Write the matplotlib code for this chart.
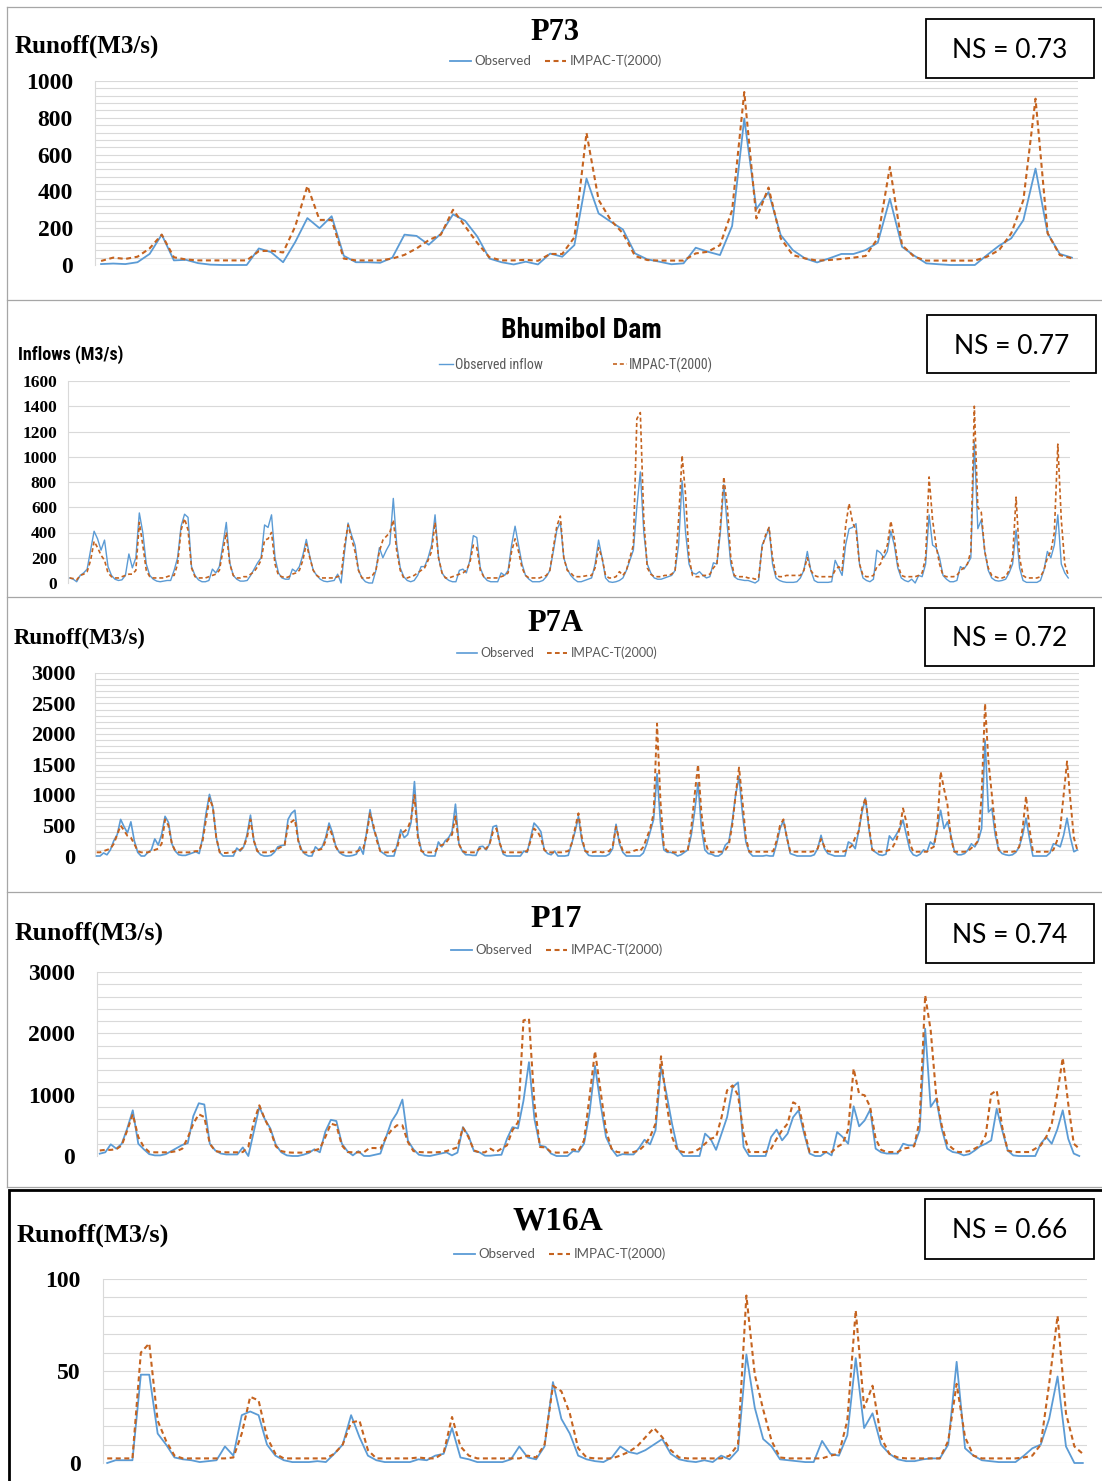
import numpy as np
import matplotlib
matplotlib.use("Agg")
import matplotlib.pyplot as plt
from matplotlib import font_manager as fm
from matplotlib.lines import Line2D
from matplotlib.patches import Rectangle

# ------------------------------------------------------------------
# Monthly runoff / inflow series (observed vs. IMPAC-T(2000) model)
# ------------------------------------------------------------------
p73_obs = [5, 8, 5, 15, 60, 165, 25, 28, 10, 2, 0, 0, 0, 90, 70, 15, 125, 255, 200, 265,
           50, 15, 15, 12, 40, 165, 158, 110, 170, 275, 240, 155, 35, 15, 3, 18, 3, 62, 45, 108,
           470, 280, 235, 193, 63, 31, 18, 4, 9, 94, 72, 54, 212, 796, 304, 396, 163, 81, 36, 14,
           36, 60, 60, 81, 121, 360, 99, 51, 9, 4, 0, 0, 0, 54, 105, 145, 244, 524, 172, 60, 40]
p73_sim = [22, 40, 33, 45, 90, 165, 42, 30, 25, 25, 25, 25, 25, 75, 78, 68, 210, 430, 245, 245,
           35, 25, 25, 25, 35, 55, 90, 135, 165, 300, 210, 120, 42, 25, 25, 28, 23, 60, 60, 150,
           718, 353, 244, 172, 49, 27, 24, 24, 24, 63, 72, 108, 298, 940, 253, 421, 145, 54, 36, 24,
           27, 33, 40, 49, 145, 533, 108, 45, 24, 24, 24, 24, 24, 45, 81, 172, 353, 904, 172, 54, 36]

bhumibol_obs = [
    40, 30, 10, 60, 80, 110, 260, 410, 350, 260, 340, 130,
    60, 30, 20, 25, 60, 230, 120, 200, 555, 400, 150, 60,
    30, 15, 10, 15, 20, 20, 100, 200, 450, 545, 520, 130,
    60, 25, 10, 10, 20, 110, 80, 130, 300, 480, 160, 60,
    30, 15, 15, 20, 60, 110, 160, 200, 460, 440, 540, 200,
    80, 40, 30, 30, 110, 90, 130, 220, 345, 210, 100, 60,
    30, 15, 10, 15, 20, 70, 0, 250, 475, 380, 300, 100,
    40, 10, 0, 0, 100, 280, 200, 260, 310, 670, 300, 120,
    50, 20, 10, 20, 60, 130, 130, 200, 300, 540, 200, 80,
    40, 20, 10, 10, 100, 110, 80, 180, 375, 360, 120, 50,
    20, 10, 10, 10, 80, 60, 100, 300, 450, 300, 150, 60,
    30, 10, 10, 10, 20, 50, 100, 250, 420, 480, 200, 110,
    60, 30, 10, 10, 20, 30, 40, 150, 340, 200, 40, 10,
    5, 10, 20, 40, 100, 180, 260, 600, 880, 400, 150, 80,
    40, 30, 30, 40, 50, 60, 100, 300, 810, 400, 150, 80,
    70, 90, 60, 40, 50, 160, 150, 400, 780, 450, 150, 50,
    30, 25, 20, 20, 10, 0, 20, 300, 360, 440, 150, 40,
    20, 10, 5, 5, 5, 10, 40, 100, 250, 100, 20, 5,
    5, 5, 5, 10, 180, 120, 60, 300, 430, 440, 470, 150,
    40, 20, 10, 30, 260, 240, 200, 250, 410, 300, 120, 40,
    20, 10, 30, 0, 60, 50, 150, 540, 300, 280, 200, 60,
    30, 10, 10, 20, 130, 110, 150, 200, 1120, 430, 500, 250,
    100, 40, 20, 15, 20, 30, 80, 150, 420, 120, 20, 5,
    5, 5, 5, 20, 100, 250, 200, 300, 540, 150, 80, 40]
bhumibol_sim = [
    40, 35, 25, 60, 70, 90, 180, 330, 280, 220, 180, 80,
    50, 40, 40, 50, 60, 70, 70, 100, 480, 300, 100, 50,
    40, 40, 40, 40, 50, 60, 60, 150, 420, 510, 420, 120,
    50, 40, 40, 40, 50, 60, 70, 100, 250, 400, 150, 60,
    40, 40, 50, 50, 70, 90, 130, 180, 340, 350, 400, 150,
    60, 50, 40, 50, 70, 80, 100, 180, 310, 200, 100, 60,
    40, 40, 40, 40, 40, 50, 60, 300, 460, 350, 250, 100,
    40, 40, 40, 60, 100, 250, 340, 370, 400, 500, 250, 100,
    40, 40, 50, 60, 80, 100, 120, 180, 250, 480, 200, 80,
    40, 40, 50, 60, 70, 80, 100, 160, 300, 280, 100, 50,
    40, 40, 40, 40, 50, 60, 80, 250, 350, 250, 120, 60,
    40, 40, 40, 40, 50, 60, 100, 280, 450, 530, 200, 100,
    80, 50, 50, 50, 55, 60, 60, 120, 280, 200, 60, 40,
    40, 50, 90, 60, 100, 200, 300, 1300, 1350, 500, 120, 70,
    50, 50, 50, 60, 60, 70, 100, 500, 1010, 700, 200, 60,
    50, 50, 60, 60, 70, 120, 150, 450, 840, 600, 200, 60,
    50, 50, 50, 40, 40, 30, 40, 280, 380, 440, 200, 60,
    50, 50, 60, 60, 60, 60, 60, 100, 200, 100, 60, 50,
    50, 50, 50, 50, 100, 130, 100, 450, 630, 480, 420, 150,
    60, 50, 50, 60, 130, 150, 230, 300, 490, 350, 150, 60,
    50, 50, 50, 50, 60, 80, 200, 840, 500, 300, 150, 60,
    50, 50, 50, 60, 100, 120, 150, 250, 1400, 600, 560, 250,
    120, 60, 50, 40, 40, 50, 100, 200, 680, 200, 60, 40,
    40, 40, 40, 50, 100, 200, 250, 400, 1100, 500, 150, 60]

p7a_obs = [
    0, 0, 50, 20, 100, 250, 350, 600, 480, 380, 560, 250,
    60, 0, 0, 60, 100, 280, 180, 350, 650, 550, 200, 80,
    20, 10, 10, 30, 50, 70, 40, 300, 700, 1010, 800, 300,
    60, 0, 0, 0, 0, 130, 80, 150, 350, 670, 250, 80,
    20, 0, 0, 10, 60, 150, 170, 180, 600, 700, 750, 250,
    100, 30, 0, 0, 150, 100, 150, 300, 540, 380, 150, 60,
    20, 0, 0, 10, 30, 150, 30, 400, 760, 450, 300, 80,
    40, 0, 0, 0, 200, 430, 300, 350, 550, 1220, 350, 100,
    20, 0, 0, 0, 230, 150, 250, 300, 400, 850, 200, 80,
    20, 20, 10, 10, 150, 160, 100, 200, 480, 500, 200, 30,
    0, 0, 0, 0, 0, 80, 60, 300, 540, 480, 400, 100,
    40, 20, 80, 0, 0, 0, 10, 200, 400, 650, 250, 80,
    10, 0, 0, 0, 0, 0, 30, 120, 520, 200, 60, 0,
    0, 0, 0, 0, 50, 200, 400, 600, 1350, 550, 100, 60,
    60, 40, 0, 20, 60, 100, 340, 730, 1200, 450, 100, 40,
    30, 0, 0, 40, 180, 230, 560, 1000, 1300, 700, 230, 60,
    0, 0, 0, 0, 10, 0, 0, 200, 450, 580, 300, 40,
    20, 0, 0, 0, 0, 0, 20, 120, 340, 120, 40, 20,
    0, 0, 0, 0, 230, 200, 120, 400, 720, 950, 450, 100,
    60, 20, 10, 30, 330, 260, 350, 450, 590, 340, 100, 20,
    0, 30, 100, 70, 230, 180, 450, 750, 450, 560, 340, 80,
    20, 20, 40, 100, 200, 150, 250, 450, 1900, 720, 780, 340,
    100, 40, 20, 10, 20, 60, 150, 340, 620, 290, 0, 0,
    0, 0, 0, 50, 200, 180, 150, 340, 620, 300, 70, 100]
p7a_sim = [
    60, 60, 80, 100, 120, 200, 350, 500, 420, 330, 300, 200,
    80, 60, 60, 60, 80, 100, 120, 200, 600, 500, 200, 80,
    60, 60, 60, 60, 70, 80, 80, 250, 600, 950, 800, 300,
    60, 50, 50, 60, 60, 100, 100, 150, 300, 600, 250, 80,
    60, 60, 60, 70, 90, 120, 150, 180, 500, 560, 600, 250,
    60, 60, 60, 60, 100, 100, 120, 250, 480, 330, 150, 60,
    60, 60, 60, 60, 70, 100, 120, 350, 700, 500, 250, 80,
    60, 60, 60, 80, 150, 380, 400, 450, 600, 1000, 300, 80,
    60, 60, 60, 60, 160, 180, 200, 280, 350, 650, 200, 80,
    60, 60, 60, 60, 120, 130, 120, 200, 400, 450, 200, 60,
    60, 60, 60, 60, 60, 70, 80, 250, 450, 400, 300, 100,
    60, 60, 60, 60, 60, 70, 80, 200, 450, 700, 300, 80,
    60, 60, 70, 70, 60, 70, 80, 150, 480, 250, 80, 60,
    60, 80, 100, 80, 150, 300, 450, 700, 2170, 900, 150, 80,
    70, 60, 60, 70, 80, 100, 450, 1000, 1500, 700, 250, 80,
    60, 60, 70, 70, 100, 180, 500, 1000, 1450, 900, 300, 70,
    70, 70, 70, 70, 70, 70, 80, 250, 500, 600, 300, 70,
    70, 70, 70, 70, 70, 70, 80, 120, 280, 150, 80, 70,
    70, 70, 70, 80, 120, 170, 300, 400, 780, 950, 500, 100,
    80, 70, 70, 80, 100, 150, 250, 450, 780, 550, 200, 70,
    70, 70, 70, 70, 120, 150, 450, 1380, 1100, 840, 300, 70,
    70, 70, 70, 80, 130, 180, 250, 1000, 2500, 1550, 1000, 450,
    100, 70, 70, 70, 70, 80, 150, 450, 980, 450, 80, 70,
    70, 70, 70, 70, 100, 240, 450, 1000, 1550, 900, 300, 100]

p17_obs = [38, 60, 190, 120, 200, 450, 745, 200, 110, 30, 10, 10, 30, 80, 130, 180, 210, 650, 860, 840,
           200, 90, 40, 25, 25, 25, 140, 0, 400, 800, 600, 450, 180, 60, 10, 0, 0, 20, 50, 110,
           60, 400, 590, 570, 200, 80, 10, 80, 0, 0, 20, 40, 300, 560, 700, 920, 250, 110, 20, 5,
           0, 20, 40, 60, 10, 55, 470, 330, 80, 60, 5, 5, 15, 20, 280, 470, 450, 900, 1530, 600,
           170, 150, 40, 0, 0, 0, 80, 70, 200, 700, 1470, 850, 310, 120, 0, 30, 25, 25, 130, 265,
           190, 420, 1455, 1010, 525, 120, 0, 0, 0, 0, 365, 280, 100, 365, 632, 1120, 1200, 147, 0, 0,
           0, 0, 310, 430, 255, 365, 632, 745, 365, 40, 0, 0, 65, 10, 390, 310, 200, 810, 484, 580,
           755, 120, 60, 40, 40, 40, 200, 174, 174, 420, 2075, 800, 935, 445, 120, 65, 50, 10, 30, 90,
           160, 200, 255, 770, 420, 90, 10, 0, 0, 0, 0, 200, 310, 200, 430, 745, 280, 40, 0]
p17_sim = [90, 100, 100, 110, 174, 420, 680, 310, 147, 65, 60, 60, 60, 65, 80, 120, 300, 527, 680, 635,
           200, 80, 65, 60, 60, 60, 65, 150, 560, 826, 600, 420, 158, 80, 60, 55, 55, 55, 70, 90,
           120, 310, 527, 500, 174, 65, 60, 60, 60, 130, 130, 120, 300, 420, 500, 500, 228, 80, 65, 60,
           60, 60, 65, 80, 110, 140, 462, 310, 90, 60, 60, 120, 65, 120, 174, 420, 550, 2210, 2240, 850,
           147, 140, 65, 55, 55, 60, 110, 80, 255, 960, 1710, 1070, 420, 120, 65, 55, 55, 65, 90, 174,
           310, 527, 1625, 850, 310, 90, 65, 55, 65, 120, 200, 280, 310, 632, 1070, 1150, 990, 365, 65, 65,
           65, 65, 120, 280, 420, 527, 875, 826, 420, 65, 65, 65, 65, 65, 147, 200, 430, 1424, 1010, 990,
           800, 280, 100, 65, 65, 65, 120, 135, 160, 580, 2620, 2050, 990, 500, 200, 120, 65, 65, 80, 120,
           170, 337, 1010, 1070, 473, 90, 65, 65, 65, 65, 120, 174, 310, 527, 1010, 1600, 850, 200, 120]

w16a_obs = [0, 1.5, 1.5, 1.5, 48, 48, 16, 10, 3, 2, 1.5, 0.5, 1, 1.5, 9, 4, 26, 28, 26, 10,
            4, 1.5, 0.5, 0.5, 0.5, 1, 0.5, 5, 10, 26, 14, 4, 1.5, 0.5, 0.5, 0.5, 0.5, 2, 1.5, 4,
            5, 19, 3, 2, 0.5, 0.5, 0.5, 0.5, 2, 9, 3, 2, 9, 44, 24, 16, 4, 2, 1, 0.5,
            3, 9, 6, 5, 7, 10, 13, 5, 2, 1, 0.5, 1.5, 0.5, 4, 2, 7, 59, 30, 13, 9,
            2, 1.5, 1, 0.5, 0.5, 12, 5, 4, 15, 57, 19, 27, 10, 5, 2, 1, 1, 2, 2.5, 2.5,
            10, 55, 8, 4, 1.5, 1, 0.5, 0.5, 0.5, 4, 8, 10, 24, 47, 9, 0, 0]
w16a_sim = [2.5, 2.5, 2.5, 2.5, 60, 65, 23, 12, 4, 2.5, 2.5, 2.5, 2.5, 2.5, 2.5, 3, 16, 36, 34, 14,
            5, 2.5, 2.5, 2.5, 2.5, 2.5, 2.5, 5, 10, 22, 23, 7, 2.5, 2.5, 2.5, 2.5, 2.5, 3, 2.5, 2.5,
            5.5, 25, 9, 4, 2.5, 2.5, 2.5, 2.5, 2.5, 2.5, 4, 3, 10, 42, 39, 27, 8, 3, 2.5, 2.5,
            2.5, 4, 6, 9, 14, 19, 14, 7, 3, 2.5, 2.5, 2.5, 2.5, 2.5, 4, 10, 91, 48, 29, 12,
            3, 2.5, 2.5, 2.5, 2.5, 2.5, 4, 5, 23, 83, 30, 42, 14, 5, 3, 2.5, 2.5, 2.5, 2.5, 2.5,
            12, 43, 14, 4, 2.5, 2.5, 2.5, 2.5, 2.5, 3, 4, 10, 43, 80, 27, 9, 5]

titles = ["P73", "Bhumibol Dam", "P7A", "P17", "W16A"]
ns_scores = ["0.73", "0.77", "0.72", "0.74", "0.66"]
y_titles = ["Runoff(M3/s)", "Inflows (M3/s)", "Runoff(M3/s)", "Runoff(M3/s)", "Runoff(M3/s)"]
obs_labels = ["Observed", "Observed inflow", "Observed", "Observed", "Observed"]
sim_label = "IMPAC-T(2000)"

# ------------------------------------------------------------------
# Fonts
# ------------------------------------------------------------------
_installed = {f.name for f in fm.fontManager.ttflist}


def pick(*cands):
    for c in cands:
        if c in _installed:
            return c
    return "DejaVu Sans"


SERIF = pick("Liberation Serif", "DejaVu Serif")
NARROW = pick("Liberation Sans Narrow", "Roboto Condensed", "Liberation Sans")
SANS = pick("Lato", "Open Sans", "Liberation Sans")

BLUE = "#5b9bd5"
ORANGE = "#c5631f"
GRID = "#d9d9d9"
FRAME = "#a6a6a6"

W, H = 1102, 1481
fig = plt.figure(figsize=(W / 100, H / 100), dpi=100)
fig.patch.set_facecolor("white")


def fx(x):
    return x / W


def fy(y):
    return 1 - y / H


def hline(y, x0, x1, color=FRAME, lw=0.9):
    fig.add_artist(Line2D([fx(x0), fx(x1)], [fy(y), fy(y)], transform=fig.transFigure,
                          color=color, lw=lw))


def vline(x, y0, y1, color=FRAME, lw=0.9):
    fig.add_artist(Line2D([fx(x), fx(x)], [fy(y0), fy(y1)], transform=fig.transFigure,
                          color=color, lw=lw))


def panel(obs, sim, box, ymax, major, minor, tick_family, tick_size, tick_pad,
          lw_obs=1.3, lw_sim=1.5):
    left, top, right, bottom = box
    ax = fig.add_axes([fx(left), fy(bottom), fx(right) - fx(left), fy(top) - fy(bottom)])
    n = len(obs)
    x = np.arange(n)
    l_obs, = ax.plot(x, obs, color=BLUE, lw=lw_obs, zorder=3, clip_on=False)
    l_sim, = ax.plot(x, sim, color=ORANGE, lw=lw_sim, dashes=(2.4, 1.7), zorder=4, clip_on=False)
    ax.set_xlim(-0.5, n - 0.5)
    ax.set_ylim(0, ymax)
    ticks = np.arange(0, ymax + 1, major)
    ax.set_yticks(ticks)
    ax.set_yticklabels([str(int(t)) for t in ticks], fontfamily=tick_family,
                       fontweight="bold", fontsize=tick_size)
    ax.set_yticks(np.arange(0, ymax + 1, minor), minor=True)
    ax.set_xticks([])
    ax.grid(True, axis="y", which="both", color=GRID, lw=0.8)
    ax.set_axisbelow(True)
    for s in ("top", "right", "bottom"):
        ax.spines[s].set_visible(False)
    ax.spines["left"].set_color(GRID)
    ax.spines["left"].set_linewidth(0.8)
    ax.tick_params(axis="y", which="both", length=0, pad=tick_pad)
    ax.set_facecolor("none")
    return ax, l_obs, l_sim


def legend(handles, labels, cx, cy, family, size, hlen, hpad, cspace):
    fig.legend(handles, labels, loc="center", bbox_to_anchor=(fx(cx), fy(cy)),
               ncol=2, frameon=False, handlelength=hlen, handletextpad=hpad,
               columnspacing=cspace, borderpad=0, borderaxespad=0,
               labelcolor="#595959", prop={"family": family, "size": size})


def ns_box(score, x0, y0, x1, y1):
    fig.add_artist(Rectangle((fx(x0), fy(y1)), fx(x1) - fx(x0), fy(y0) - fy(y1),
                             transform=fig.transFigure, fill=True, facecolor="white",
                             edgecolor="black", lw=1.3, zorder=5))
    fig.text(fx((x0 + x1) / 2), fy((y0 + y1) / 2 + 9.5), f"NS = {score}", ha="center",
             va="baseline", fontfamily=SANS, fontsize=19, color="black", zorder=6)


# ---- panel frames ----
hline(7, 7, W)
for yy in (300, 597, 892, 1187):
    hline(yy, 7, W)
vline(7, 7, 1187)
fig.add_artist(Rectangle((fx(9), fy(1495)), fx(1120) - fx(9), fy(1190) - fy(1495),
                         transform=fig.transFigure, fill=False, edgecolor="black", lw=2.0))

# ---- P73 ----
_, a, b = panel(p73_obs, p73_sim, (95, 81, 1078, 265), 1000, 200, 40, SERIF, 17, 16)
fig.text(fx(555), fy(40), titles[0], ha="center", va="baseline", fontfamily=SERIF,
         fontweight="bold", fontsize=22)
fig.text(fx(15), fy(53), y_titles[0], ha="left", va="baseline", fontfamily=SERIF,
         fontweight="bold", fontsize=18)
legend([a, b], [obs_labels[0], sim_label], 556, 61, SANS, 9.5, 1.6, 0.3, 1.0)
ns_box(ns_scores[0], 926, 19, 1094, 78)

# ---- Bhumibol Dam ----
_, a, b = panel(bhumibol_obs, bhumibol_sim, (68, 381, 1070, 583), 1600, 200, 200, SERIF, 12.5, 8,
                lw_obs=1.0, lw_sim=1.2)
fig.text(fx(581), fy(338), titles[1], ha="center", va="baseline", fontfamily=NARROW,
         fontweight="bold", fontsize=20)
fig.text(fx(18), fy(360), y_titles[1], ha="left", va="baseline", fontfamily=NARROW,
         fontweight="bold", fontsize=13)
legend([a, b], [obs_labels[1], sim_label], 576, 365, NARROW, 10, 1.0, 0.2, 5.0)
ns_box(ns_scores[1], 927, 315, 1096, 373)

# ---- P7A ----
_, a, b = panel(p7a_obs, p7a_sim, (95, 673, 1079, 856), 3000, 500, 100, SERIF, 16, 14,
                lw_obs=1.2, lw_sim=1.4)
fig.text(fx(555), fy(631), titles[2], ha="center", va="baseline", fontfamily=SERIF,
         fontweight="bold", fontsize=22)
fig.text(fx(14), fy(644), y_titles[2], ha="left", va="baseline", fontfamily=SERIF,
         fontweight="bold", fontsize=16.5)
legend([a, b], [obs_labels[2], sim_label], 557, 653, SANS, 9, 1.6, 0.3, 1.0)
ns_box(ns_scores[2], 925, 608, 1094, 666)

# ---- P17 ----
_, a, b = panel(p17_obs, p17_sim, (97, 972, 1082, 1156), 3000, 1000, 200, SERIF, 17, 16)
fig.text(fx(556), fy(927), titles[3], ha="center", va="baseline", fontfamily=SERIF,
         fontweight="bold", fontsize=23)
fig.text(fx(15), fy(940), y_titles[3], ha="left", va="baseline", fontfamily=SERIF,
         fontweight="bold", fontsize=18.5)
legend([a, b], [obs_labels[3], sim_label], 557, 950, SANS, 9.5, 1.6, 0.3, 1.0)
ns_box(ns_scores[3], 926, 904, 1094, 963)

# ---- W16A ----
_, a, b = panel(w16a_obs, w16a_sim, (103, 1279, 1087, 1463), 100, 50, 10, SERIF, 17, 16)
fig.text(fx(558), fy(1229), titles[4], ha="center", va="baseline", fontfamily=SERIF,
         fontweight="bold", fontsize=24)
fig.text(fx(17), fy(1242), y_titles[4], ha="left", va="baseline", fontfamily=SERIF,
         fontweight="bold", fontsize=19)
legend([a, b], [obs_labels[4], sim_label], 560, 1254, SANS, 9.5, 1.6, 0.3, 1.0)
ns_box(ns_scores[4], 925, 1199, 1094, 1259)

fig.savefig("out.png", dpi=100)
